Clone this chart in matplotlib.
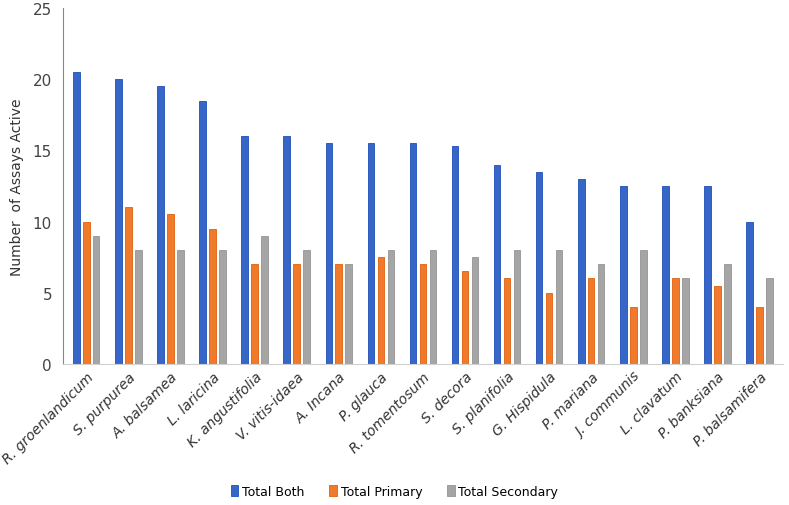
import numpy as np
import matplotlib
matplotlib.use('Agg')
import matplotlib.pyplot as plt

species = ['R. groenlandicum', 'S. purpurea', 'A. balsamea', 'L. laricina', 'K. angustifolia',
           'V. vitis-idaea', 'A. Incana', 'P. glauca', 'R. tomentosum', 'S. decora',
           'S. planifolia', 'G. Hispidula', 'P. mariana', 'J. communis', 'L. clavatum',
           'P. banksiana', 'P. balsamifera']
total_both = [20.5, 20, 19.5, 18.5, 16, 16, 15.5, 15.5, 15.5, 15.3, 14, 13.5, 13, 12.5, 12.5, 12.5, 10]
total_primary = [10, 11, 10.5, 9.5, 7, 7, 7, 7.5, 7, 6.5, 6, 5, 6, 4, 6, 5.5, 4]
total_secondary = [9, 8, 8, 8, 9, 8, 7, 8, 8, 7.5, 8, 8, 7, 8, 6, 7, 6]

fig = plt.figure(figsize=(7.89, 5.06), dpi=100)
ax = fig.add_axes([0.08, 0.279, 0.912, 0.703])

x = np.arange(len(species))
w = 0.155
step = 0.237
ax.bar(x - step, total_both, w, color='#3566c8', edgecolor='#1e4fb8', linewidth=0.6, label='Total Both')
ax.bar(x, total_primary, w, color='#f07a2a', edgecolor='#e06010', linewidth=0.6, label='Total Primary')
ax.bar(x + step, total_secondary, w, color='#a5a5a5', edgecolor='#959595', linewidth=0.6, label='Total Secondary')

ax.set_xlim(-0.55, len(species) - 0.45)
ax.set_ylim(0, 25)
ax.set_yticks([0, 5, 10, 15, 20, 25])
ax.tick_params(axis='y', length=0, labelsize=11, labelcolor='#444444', pad=8)
ax.tick_params(axis='x', length=0, pad=4)
ax.set_xticks(x)
ax.set_xticklabels(species, rotation=45, ha='right', va='top', rotation_mode='anchor',
                   style='italic', fontsize=10, color='#333333')
ax.set_ylabel('Number  of Assays Active', fontsize=10, color='#333333', labelpad=6)

for s in ['top', 'right']:
    ax.spines[s].set_visible(False)
ax.spines['left'].set_color('#888888')
ax.spines['bottom'].set_color('#d0d0d0')

fig.legend(loc='center', bbox_to_anchor=(0.5, 0.027), ncol=3, frameon=False, fontsize=9,
           handlelength=0.6, handleheight=1.0, columnspacing=2.0, handletextpad=0.3)

fig.savefig('out.png', dpi=100)
